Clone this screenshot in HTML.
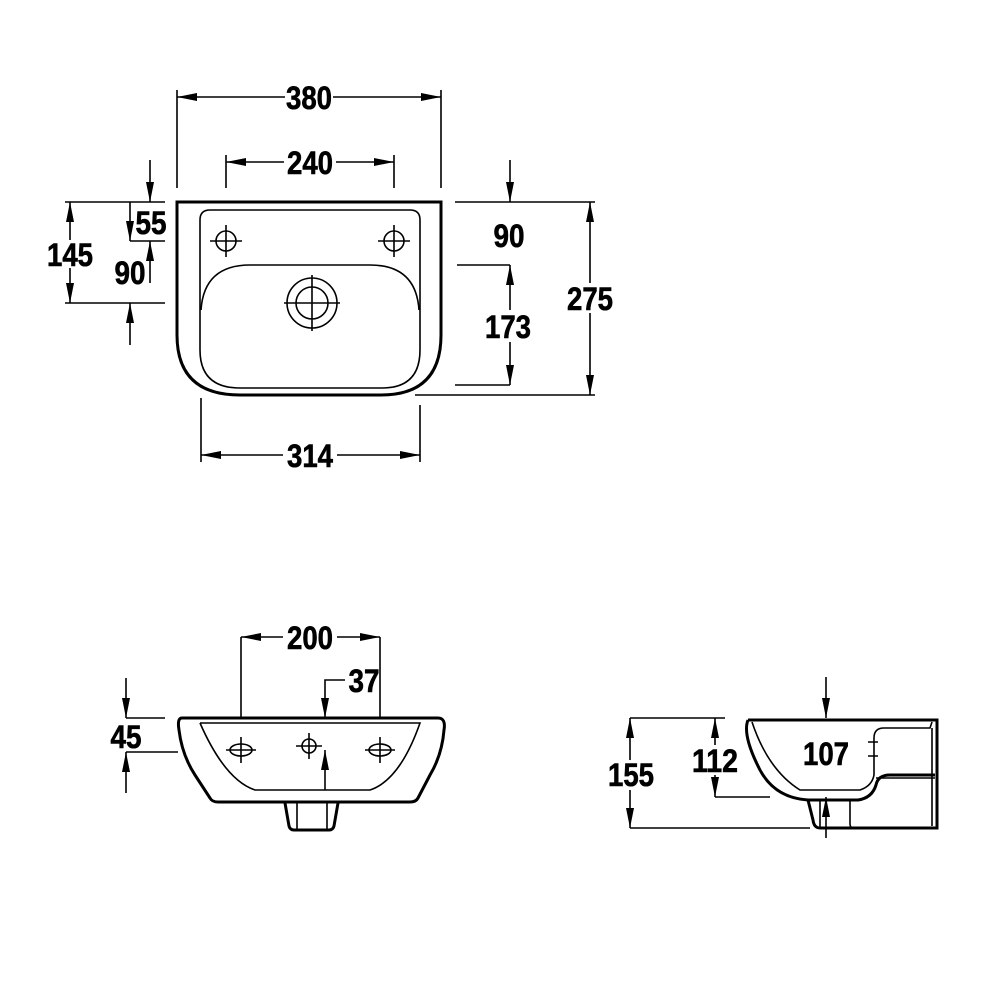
<!DOCTYPE html>
<html><head><meta charset="utf-8"><style>html,body{margin:0;padding:0;background:#fff}svg{display:block}</style></head><body>
<svg width="1000" height="1000" viewBox="0 0 1000 1000" xmlns="http://www.w3.org/2000/svg">
<defs>
<marker id="a" viewBox="0 0 20 10" refX="20" refY="5" markerWidth="20" markerHeight="10" markerUnits="userSpaceOnUse" orient="auto-start-reverse"><path d="M0,1 L20,5 L0,9 Z" fill="#000"/></marker>
</defs>
<style>
.l{stroke:#000;stroke-width:1.6;fill:none}
.o{stroke:#000;stroke-width:3;fill:none}
.t{font-family:"Liberation Sans",sans-serif;font-weight:bold;font-size:32px;fill:#000;text-anchor:middle;stroke:#000;stroke-width:0.6}
</style>
<!-- TOP VIEW -->
<path class="o" d="M177,202 L441,202 L441,335 Q441,395 381,395 L240,395 Q177,395 177,335 Z"/>
<path class="l" d="M210,210 L410,210 Q420,210 420,220 L420,350 Q420,388 382,388 L240,388 Q200,388 200,350 L200,220 Q200,210 210,210 Z"/>
<path class="l" d="M201,310 Q204,265 250,265 L370,265 Q416,265 419,310"/>
<circle class="l" cx="226" cy="241" r="10"/><circle class="l" cx="394" cy="241" r="10"/>
<path class="l" d="M210,241h32M226,225v32M378,241h32M394,225v32"/>
<circle class="l" cx="312" cy="303" r="25"/><circle class="l" cx="312" cy="303" r="16"/>
<path class="l" d="M284,303h56M312,275v56"/>
<path class="l" d="M177,90V188M441,90V188"/>
<path class="l" d="M177,97H285M333,97H441" marker-start="url(#a)" marker-end="url(#a)"/>
<text class="t" x="309" y="109" textLength="46" lengthAdjust="spacingAndGlyphs">380</text>
<path class="l" d="M226,155V188M394,155V188"/>
<path class="l" d="M226,162H284M336,162H394" marker-start="url(#a)" marker-end="url(#a)"/>
<text class="t" x="310" y="174" textLength="46" lengthAdjust="spacingAndGlyphs">240</text>
<path class="l" d="M201,398V462M420,405V462"/>
<path class="l" d="M201,455H283M337,455H420" marker-start="url(#a)" marker-end="url(#a)"/>
<text class="t" x="310" y="467" textLength="46" lengthAdjust="spacingAndGlyphs">314</text>
<path class="l" d="M65,202H165M65,303H165M130,241H165"/>
<path class="l" d="M70,202V240M70,268V303" marker-start="url(#a)" marker-end="url(#a)"/>
<text class="t" x="70" y="266" textLength="46" lengthAdjust="spacingAndGlyphs">145</text>
<path class="l" d="M150,160V202" marker-end="url(#a)"/>
<path class="l" d="M150,283V241" marker-end="url(#a)"/>
<text class="t" x="151" y="234" textLength="31" lengthAdjust="spacingAndGlyphs">55</text>
<path class="l" d="M130,202V241" marker-end="url(#a)"/>
<path class="l" d="M130,345V303" marker-end="url(#a)"/>
<text class="t" x="130" y="284" textLength="31" lengthAdjust="spacingAndGlyphs">90</text>
<path class="l" d="M455,202H595M457,265H510M455,385H510M415,395H595"/>
<path class="l" d="M510,160V202" marker-end="url(#a)"/>
<text class="t" x="509" y="247" textLength="31" lengthAdjust="spacingAndGlyphs">90</text>
<path class="l" d="M510,265V310M510,342V385" marker-start="url(#a)" marker-end="url(#a)"/>
<text class="t" x="508" y="338" textLength="46" lengthAdjust="spacingAndGlyphs">173</text>
<path class="l" d="M590,202V283M590,313V395" marker-start="url(#a)" marker-end="url(#a)"/>
<text class="t" x="590" y="310" textLength="46" lengthAdjust="spacingAndGlyphs">275</text>

<!-- FRONT VIEW -->
<path class="o" d="M182,718 L438,718 Q446,718 444,730 Q442,755 430,775 L418,798 Q416,802 410,802 L218,802 Q212,802 210,798 L195,775 Q182,755 179,730 Q177,718 182,718 Z"/>
<path class="l" d="M200,723 L420,723 Q400,780 370,790 L255,790 Q225,780 200,723"/>
<path class="o" d="M285,803 L289,826 Q290,830 294,830 L329,830 Q333,830 334,826 L338,803"/>
<path class="l" d="M297,803V829M327,803V829"/>
<ellipse class="l" cx="241" cy="750" rx="11" ry="6"/><ellipse class="l" cx="380" cy="750" rx="11" ry="6"/>
<circle class="l" cx="309" cy="746" r="7"/>
<path class="l" d="M226,750h30M241,737v26M365,750h30M380,737v26M296,746h26M309,733v26"/>
<path class="l" d="M241,637V718M380,637V718"/>
<path class="l" d="M241,637H283M337,637H380" marker-start="url(#a)" marker-end="url(#a)"/>
<text class="t" x="310" y="649" textLength="46" lengthAdjust="spacingAndGlyphs">200</text>
<path class="l" d="M345,680H325V718" marker-end="url(#a)"/>
<path class="l" d="M325,790V750" marker-end="url(#a)"/>
<text class="t" x="364" y="692" textLength="31" lengthAdjust="spacingAndGlyphs">37</text>
<path class="l" d="M126,718H165M126,752H178"/>
<path class="l" d="M126,678V718" marker-end="url(#a)"/>
<path class="l" d="M126,793V752" marker-end="url(#a)"/>
<text class="t" x="126" y="748" textLength="31" lengthAdjust="spacingAndGlyphs">45</text>

<!-- SIDE VIEW -->
<path class="o" d="M748,720 L937,720 L937,828 L820,828 Q814,828 813,820 L808,800"/>
<path class="o" d="M748,720 Q742,735 760,770 Q775,798 808,800 L858,800 Q872,798 876,785 Q878,775 890,775 L935,775"/>
<path class="l" d="M752,722 Q768,770 800,790 L860,790 Q872,786 874,775 L874,738 Q874,728 884,728 L930,728 L932,722 M932,728 L932,826"/>
<path class="l" d="M820,800V828M850,800V824 Q850,828 854,828 M876,778H935"/>
<path class="l" d="M868,742h10M868,756h10"/>
<path class="l" d="M630,718H725M630,828H810M715,797H770"/>
<path class="l" d="M630,718V760M630,790V828" marker-start="url(#a)" marker-end="url(#a)"/>
<text class="t" x="631" y="786" textLength="46" lengthAdjust="spacingAndGlyphs">155</text>
<path class="l" d="M715,718V745M715,775V797" marker-start="url(#a)" marker-end="url(#a)"/>
<text class="t" x="715" y="772" textLength="46" lengthAdjust="spacingAndGlyphs">112</text>
<path class="l" d="M826,677V718" marker-end="url(#a)"/>
<path class="l" d="M826,838V797" marker-end="url(#a)"/>
<text class="t" x="826" y="765" textLength="46" lengthAdjust="spacingAndGlyphs">107</text>
</svg>
</body></html>
